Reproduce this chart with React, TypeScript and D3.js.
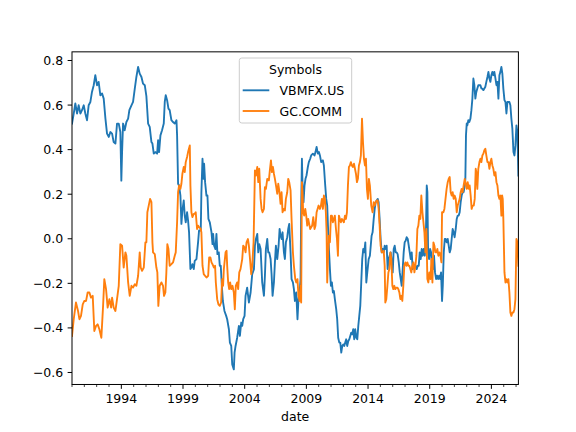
import React from "react";
import * as d3 from "d3";

// ---- data (decimal year, correlation value) ----
const VBMFX_YEARS = [
  1990.0, 1990.14, 1990.27, 1990.41, 1990.54, 1990.68, 1990.81, 1990.95, 1991.08, 1991.22,
  1991.35, 1991.49, 1991.62, 1991.76, 1991.89, 1992.03, 1992.16, 1992.3, 1992.44, 1992.57,
  1992.71, 1992.84, 1992.98, 1993.11, 1993.25, 1993.38, 1993.52, 1993.65, 1993.79, 1993.92,
  1994.0, 1994.06, 1994.14, 1994.27, 1994.41, 1994.55, 1994.65, 1994.82, 1994.95, 1995.09,
  1995.22, 1995.36, 1995.49, 1995.63, 1995.76, 1995.9, 1996.03, 1996.17, 1996.3, 1996.44,
  1996.52, 1996.63, 1996.76, 1996.9, 1996.98, 1997.06, 1997.17, 1997.3, 1997.44, 1997.52,
  1997.6, 1997.71, 1997.82, 1997.92, 1998.06, 1998.19, 1998.33, 1998.47, 1998.52, 1998.6,
  1998.68, 1998.79, 1998.87, 1998.95, 1999.06, 1999.14, 1999.22, 1999.33, 1999.41, 1999.49,
  1999.6, 1999.68, 1999.76, 1999.87, 1999.95, 2000.09, 2000.22, 2000.3, 2000.44, 2000.49,
  2000.58, 2000.66, 2000.71, 2000.79, 2000.9, 2000.98, 2001.06, 2001.17, 2001.31, 2001.39,
  2001.44, 2001.52, 2001.63, 2001.71, 2001.79, 2001.9, 2001.98, 2002.06, 2002.14, 2002.23,
  2002.36, 2002.5, 2002.58, 2002.72, 2002.8, 2002.91, 2002.99, 2003.12, 2003.18, 2003.26,
  2003.39, 2003.53, 2003.61, 2003.72, 2003.8, 2003.88, 2003.99, 2004.07, 2004.2, 2004.34,
  2004.48, 2004.61, 2004.75, 2004.83, 2004.91, 2005.02, 2005.1, 2005.18, 2005.29, 2005.42,
  2005.56, 2005.64, 2005.72, 2005.83, 2005.91, 2005.99, 2006.1, 2006.18, 2006.26, 2006.37,
  2006.45, 2006.53, 2006.64, 2006.75, 2006.83, 2006.91, 2006.99, 2007.07, 2007.18, 2007.26,
  2007.34, 2007.45, 2007.53, 2007.61, 2007.72, 2007.8, 2007.91, 2007.99, 2008.07, 2008.18,
  2008.28, 2008.36, 2008.45, 2008.53, 2008.58, 2008.64, 2008.69, 2008.77, 2008.85, 2008.93,
  2009.01, 2009.12, 2009.2, 2009.31, 2009.39, 2009.53, 2009.66, 2009.74, 2009.83, 2009.93,
  2010.02, 2010.1, 2010.2, 2010.34, 2010.42, 2010.53, 2010.61, 2010.69, 2010.75, 2010.83,
  2010.91, 2010.99, 2011.07, 2011.15, 2011.23, 2011.31, 2011.42, 2011.5, 2011.58, 2011.67,
  2011.75, 2011.83, 2011.91, 2011.99, 2012.07, 2012.15, 2012.23, 2012.31, 2012.4, 2012.48,
  2012.56, 2012.64, 2012.72, 2012.8, 2012.88, 2012.96, 2013.05, 2013.13, 2013.21, 2013.29,
  2013.37, 2013.45, 2013.53, 2013.61, 2013.69, 2013.78, 2013.86, 2013.94, 2014.05, 2014.15,
  2014.29, 2014.37, 2014.46, 2014.54, 2014.62, 2014.7, 2014.78, 2014.86, 2014.94, 2015.02,
  2015.11, 2015.19, 2015.27, 2015.35, 2015.43, 2015.51, 2015.59, 2015.67, 2015.75, 2015.84,
  2015.92, 2016.0, 2016.08, 2016.16, 2016.24, 2016.32, 2016.4, 2016.49, 2016.57, 2016.65,
  2016.73, 2016.81, 2016.89, 2016.97, 2017.05, 2017.13, 2017.22, 2017.3, 2017.38, 2017.46,
  2017.54, 2017.62, 2017.7, 2017.78, 2017.86, 2017.95, 2018.03, 2018.11, 2018.19, 2018.27,
  2018.35, 2018.43, 2018.51, 2018.6, 2018.68, 2018.76, 2018.81, 2018.87, 2018.95, 2019.03,
  2019.11, 2019.19, 2019.27, 2019.35, 2019.43, 2019.52, 2019.6, 2019.68, 2019.76, 2019.84,
  2019.92, 2020.0, 2020.06, 2020.14, 2020.22, 2020.3, 2020.37, 2020.46, 2020.54, 2020.62,
  2020.7, 2020.78, 2020.86, 2020.94, 2021.02, 2021.11, 2021.19, 2021.27, 2021.35, 2021.43,
  2021.51, 2021.59, 2021.67, 2021.75, 2021.84, 2021.89, 2021.94, 2022.0, 2022.05, 2022.13,
  2022.21, 2022.3, 2022.38, 2022.46, 2022.54, 2022.62, 2022.7, 2022.78, 2022.86, 2022.94,
  2023.03, 2023.11, 2023.19, 2023.27, 2023.35, 2023.43, 2023.51, 2023.59, 2023.68, 2023.76,
  2023.84, 2023.92, 2024.0, 2024.08, 2024.16, 2024.24, 2024.33, 2024.41, 2024.49, 2024.57,
  2024.65, 2024.73, 2024.81, 2024.89, 2024.97, 2025.06, 2025.14, 2025.22, 2025.3, 2025.38,
  2025.46, 2025.54, 2025.62, 2025.7, 2025.79, 2025.87, 2025.95, 2026.03, 2026.11, 2026.19,
];
const VBMFX_VALUES = [
  0.517, 0.562, 0.607, 0.562, 0.599, 0.562, 0.577, 0.599, 0.562, 0.532,
  0.599, 0.614, 0.659, 0.689, 0.734, 0.689, 0.704, 0.644, 0.652, 0.629,
  0.539, 0.472, 0.457, 0.479, 0.472, 0.434, 0.427, 0.517, 0.517, 0.479,
  0.261, 0.389, 0.517, 0.487, 0.524, 0.539, 0.577, 0.599, 0.614, 0.674,
  0.726, 0.771, 0.741, 0.726, 0.696, 0.689, 0.64, 0.517, 0.502, 0.434,
  0.427, 0.382, 0.389, 0.382, 0.442, 0.389, 0.464, 0.487, 0.517, 0.614,
  0.644, 0.622, 0.584, 0.577, 0.532, 0.524, 0.517, 0.532, 0.464, 0.247,
  0.239, 0.194, 0.067, 0.127, 0.172, 0.104, 0.074, 0.119, 0.082, 0.029,
  -0.136, -0.129, -0.114, -0.136, -0.099, -0.091, -0.016, 0.037, 0.037, 0.209,
  0.359, 0.269, 0.337, 0.254, 0.194, 0.194, 0.089, 0.074, 0.029, -0.024,
  0.022, -0.031, -0.046, 0.022, -0.069, -0.061, -0.121, -0.121, -0.204, -0.279,
  -0.324, -0.346, -0.361, -0.406, -0.466, -0.481, -0.564, -0.586, -0.511, -0.481,
  -0.444, -0.391, -0.436, -0.376, -0.391, -0.361, -0.346, -0.256, -0.219, -0.286,
  -0.241, -0.159, -0.136, -0.031, -0.001, 0.022, -0.061, -0.024, -0.046, -0.196,
  -0.256, -0.166, -0.046, -0.001, -0.061, -0.061, -0.091, -0.159, -0.256, -0.196,
  -0.106, -0.031, -0.091, -0.031, 0.044, 0.014, -0.001, 0.029, -0.061, -0.091,
  -0.016, 0.007, 0.044, 0.067, -0.061, -0.181, -0.196, -0.226, -0.279, -0.241,
  -0.361, -0.271, -0.241, -0.181, 0.134, 0.359, 0.239, 0.164, 0.239, 0.269,
  0.284, 0.322, 0.344, 0.359, 0.374, 0.382, 0.374, 0.389, 0.412, 0.382,
  0.389, 0.374, 0.344, 0.352, 0.329, 0.239, 0.179, 0.149, 0.059, -0.046,
  -0.136, -0.211, -0.196, -0.241, -0.234, -0.271, -0.316, -0.361, -0.444, -0.466,
  -0.466, -0.511, -0.481, -0.474, -0.481, -0.466, -0.451, -0.481, -0.459, -0.451,
  -0.436, -0.421, -0.429, -0.406, -0.451, -0.406, -0.444, -0.451, -0.391, -0.346,
  -0.301, -0.196, -0.091, -0.046, -0.061, -0.016, -0.196, -0.151, -0.091, -0.076,
  0.014, 0.029, 0.089, 0.134, 0.164, 0.172, 0.179, 0.164, 0.089, -0.001,
  -0.061, -0.046, -0.061, -0.031, -0.046, -0.031, -0.136, -0.091, -0.076, -0.061,
  -0.106, -0.151, -0.046, -0.031, -0.061, -0.061, -0.069, -0.106, -0.151, -0.181,
  -0.211, -0.136, -0.061, -0.016, -0.009, 0.007, -0.001, -0.031, -0.061, -0.091,
  -0.061, -0.136, -0.121, -0.121, -0.121, -0.136, -0.121, -0.121, -0.061, -0.091,
  -0.046, -0.076, -0.046, -0.076, -0.016, 0.239, 0.209, -0.061, -0.091, -0.046,
  -0.061, -0.121, -0.136, -0.076, -0.151, -0.181, -0.166, -0.181, -0.166, -0.181,
  -0.151, -0.279, -0.211, -0.061, -0.001, -0.001, -0.016, -0.001, -0.031, -0.061,
  -0.046, -0.001, 0.044, 0.029, 0.007, 0.044, 0.089, 0.104, 0.104, 0.119,
  0.164, 0.194, 0.209, 0.209, 0.239, 0.269, 0.464, 0.517, 0.509, 0.532,
  0.524, 0.539, 0.577, 0.629, 0.719, 0.689, 0.629, 0.659, 0.674, 0.689,
  0.689, 0.689, 0.674, 0.674, 0.667, 0.674, 0.682, 0.704, 0.726, 0.749,
  0.719, 0.704, 0.734, 0.749, 0.734, 0.749, 0.719, 0.689, 0.704, 0.629,
  0.734, 0.749, 0.771, 0.741, 0.674, 0.622, 0.614, 0.562, 0.614, 0.614,
  0.614, 0.599, 0.539, 0.494, 0.389, 0.374, 0.419, 0.509, 0.479, 0.284,
];

const GC_YEARS = [
  1990.0, 1990.14, 1990.32, 1990.49, 1990.6, 1990.73, 1990.87, 1991.0, 1991.14, 1991.27,
  1991.41, 1991.54, 1991.68, 1991.81, 1991.95, 1992.08, 1992.22, 1992.38, 1992.52, 1992.62,
  1992.76, 1992.89, 1993.03, 1993.17, 1993.25, 1993.38, 1993.52, 1993.65, 1993.79, 1993.92,
  1994.06, 1994.19, 1994.33, 1994.41, 1994.55, 1994.68, 1994.82, 1994.95, 1995.09, 1995.22,
  1995.36, 1995.49, 1995.57, 1995.68, 1995.82, 1995.95, 1996.03, 1996.11, 1996.22, 1996.33,
  1996.44, 1996.52, 1996.57, 1996.71, 1996.84, 1996.92, 1997.0, 1997.11, 1997.25, 1997.38,
  1997.46, 1997.57, 1997.65, 1997.73, 1997.82, 1997.92, 1998.06, 1998.19, 1998.33, 1998.41,
  1998.52, 1998.6, 1998.68, 1998.79, 1998.87, 1998.95, 1999.06, 1999.14, 1999.22, 1999.33,
  1999.41, 1999.55, 1999.6, 1999.68, 1999.76, 1999.87, 1999.95, 2000.03, 2000.14, 2000.22,
  2000.3, 2000.44, 2000.49, 2000.58, 2000.68, 2000.79, 2000.9, 2001.04, 2001.12, 2001.22,
  2001.31, 2001.39, 2001.5, 2001.6, 2001.66, 2001.77, 2001.87, 2001.98, 2002.09, 2002.17,
  2002.25, 2002.31, 2002.45, 2002.53, 2002.58, 2002.66, 2002.74, 2002.82, 2002.91, 2003.01,
  2003.12, 2003.2, 2003.28, 2003.39, 2003.47, 2003.56, 2003.66, 2003.8, 2003.88, 2003.99,
  2004.07, 2004.15, 2004.26, 2004.34, 2004.42, 2004.53, 2004.61, 2004.72, 2004.83, 2004.91,
  2005.02, 2005.1, 2005.18, 2005.29, 2005.37, 2005.45, 2005.56, 2005.64, 2005.72, 2005.83,
  2005.96, 2006.04, 2006.13, 2006.21, 2006.29, 2006.37, 2006.45, 2006.56, 2006.64, 2006.72,
  2006.8, 2006.91, 2006.99, 2007.07, 2007.18, 2007.26, 2007.34, 2007.45, 2007.53, 2007.61,
  2007.72, 2007.8, 2007.91, 2007.99, 2008.1, 2008.18, 2008.28, 2008.36, 2008.45, 2008.53,
  2008.58, 2008.64, 2008.69, 2008.74, 2008.82, 2008.91, 2008.99, 2009.07, 2009.15, 2009.23,
  2009.31, 2009.39, 2009.47, 2009.56, 2009.66, 2009.74, 2009.83, 2009.91, 2009.99, 2010.1,
  2010.18, 2010.26, 2010.34, 2010.42, 2010.5, 2010.58, 2010.64, 2010.69, 2010.75, 2010.83,
  2010.91, 2010.99, 2011.07, 2011.15, 2011.23, 2011.31, 2011.4, 2011.48, 2011.56, 2011.64,
  2011.72, 2011.8, 2011.88, 2011.96, 2012.04, 2012.13, 2012.21, 2012.29, 2012.37, 2012.45,
  2012.53, 2012.61, 2012.69, 2012.77, 2012.86, 2012.94, 2013.02, 2013.1, 2013.18, 2013.26,
  2013.34, 2013.42, 2013.51, 2013.59, 2013.67, 2013.75, 2013.83, 2013.91, 2013.99, 2014.07,
  2014.15, 2014.26, 2014.37, 2014.46, 2014.54, 2014.62, 2014.7, 2014.78, 2014.86, 2014.94,
  2015.02, 2015.11, 2015.19, 2015.27, 2015.35, 2015.4, 2015.48, 2015.57, 2015.65, 2015.73,
  2015.81, 2015.89, 2015.97, 2016.05, 2016.13, 2016.21, 2016.3, 2016.38, 2016.46, 2016.54,
  2016.62, 2016.7, 2016.78, 2016.86, 2016.94, 2017.03, 2017.11, 2017.19, 2017.27, 2017.35,
  2017.43, 2017.51, 2017.59, 2017.68, 2017.76, 2017.84, 2017.92, 2018.0, 2018.08, 2018.16,
  2018.24, 2018.32, 2018.41, 2018.49, 2018.57, 2018.65, 2018.73, 2018.81, 2018.89, 2018.97,
  2019.06, 2019.14, 2019.22, 2019.3, 2019.38, 2019.46, 2019.54, 2019.62, 2019.7, 2019.79,
  2019.87, 2019.95, 2020.0, 2020.11, 2020.19, 2020.37, 2020.46, 2020.54, 2020.62, 2020.7,
  2020.78, 2020.86, 2020.94, 2021.02, 2021.11, 2021.19, 2021.27, 2021.35, 2021.43, 2021.51,
  2021.59, 2021.67, 2021.75, 2021.84, 2021.92, 2022.0, 2022.08, 2022.16, 2022.24, 2022.32,
  2022.4, 2022.48, 2022.57, 2022.65, 2022.73, 2022.78, 2022.86, 2022.94, 2023.03, 2023.11,
  2023.19, 2023.27, 2023.35, 2023.43, 2023.51, 2023.59, 2023.68, 2023.76, 2023.84, 2023.92,
  2024.0, 2024.08, 2024.16, 2024.24, 2024.33, 2024.41, 2024.49, 2024.57, 2024.65, 2024.73,
  2024.81, 2024.87, 2024.92, 2024.97, 2025.06, 2025.14, 2025.22, 2025.3, 2025.38, 2025.46,
  2025.54, 2025.62, 2025.7, 2025.79, 2025.87, 2025.95, 2026.03, 2026.11, 2026.19,
];
const GC_VALUES = [
  -0.436, -0.361, -0.286, -0.324, -0.361, -0.346, -0.294, -0.279, -0.279, -0.241,
  -0.241, -0.264, -0.256, -0.414, -0.391, -0.384, -0.406, -0.444, -0.301, -0.181,
  -0.226, -0.309, -0.271, -0.309, -0.264, -0.309, -0.324, -0.271, -0.211, -0.024,
  -0.031, -0.129, -0.061, -0.076, -0.196, -0.256, -0.211, -0.219, -0.204, -0.211,
  -0.166, -0.061, -0.129, -0.144, -0.129, -0.016, -0.016, 0.119, 0.149, 0.179,
  0.164, -0.016, -0.061, -0.069, -0.129, -0.151, -0.301, -0.211, -0.196, -0.211,
  -0.256, -0.241, -0.151, -0.024, -0.046, -0.121, -0.114, -0.106, -0.076, -0.061,
  0.074, 0.209, 0.239, 0.224, 0.247, 0.292, 0.322, 0.299, 0.344, 0.367,
  0.389, 0.419, 0.239, 0.119, 0.097, 0.112, 0.112, 0.119, 0.044, 0.059,
  0.052, 0.044, 0.029, -0.121, -0.159, -0.166, -0.174, -0.166, -0.084, -0.084,
  -0.106, -0.114, -0.129, -0.121, -0.196, -0.271, -0.294, -0.301, -0.286, -0.181,
  -0.211, -0.136, -0.061, -0.054, -0.121, -0.196, -0.226, -0.196, -0.226, -0.211,
  -0.241, -0.316, -0.211, -0.196, -0.226, -0.151, -0.136, -0.091, -0.031, -0.039,
  -0.061, -0.016, -0.001, -0.031, -0.084, -0.159, -0.121, -0.016, 0.307, 0.284,
  0.322, 0.254, 0.314, 0.179, 0.134, 0.119, 0.134, 0.232, 0.224, 0.269,
  0.262, 0.307, 0.352, 0.299, 0.322, 0.292, 0.269, 0.232, 0.202, 0.247,
  0.217, 0.157, 0.209, 0.119, 0.134, 0.127, 0.179, 0.209, 0.269, 0.254,
  0.217, 0.089, -0.061, -0.121, -0.181, -0.196, -0.181, -0.256, -0.279, -0.211,
  -0.286, 0.254, 0.209, 0.119, 0.104, 0.134, 0.104, 0.059, 0.089, 0.067,
  0.044, 0.052, 0.059, 0.097, 0.044, 0.059, 0.119, 0.134, 0.149, 0.134,
  0.149, 0.179, 0.134, 0.194, 0.179, 0.119, 0.029, -0.196, -0.091, 0.014,
  -0.016, 0.104, 0.104, 0.074, 0.089, 0.104, 0.044, -0.001, -0.076, 0.104,
  0.089, 0.074, 0.089, 0.082, 0.074, 0.104, 0.089, 0.119, 0.239, 0.322,
  0.329, 0.344, 0.329, 0.322, 0.337, 0.314, 0.292, 0.254, 0.269, 0.329,
  0.344, 0.374, 0.539, 0.434, 0.359, 0.329, 0.359, 0.224, 0.179, 0.269,
  0.239, 0.149, 0.119, 0.164, 0.149, 0.164, 0.172, 0.172, 0.134, 0.059,
  -0.031, -0.061, -0.061, -0.054, -0.121, -0.286, -0.271, -0.211, -0.151, -0.136,
  -0.061, -0.091, -0.211, -0.226, -0.211, -0.226, -0.219, -0.219, -0.226, -0.241,
  -0.271, -0.256, -0.279, -0.211, -0.121, -0.106, -0.121, -0.106, -0.121, -0.121,
  -0.136, -0.151, -0.121, -0.106, -0.151, -0.121, -0.076, 0.044, 0.059, 0.104,
  0.089, 0.194, 0.119, 0.074, 0.029, -0.061, 0.044, -0.181, -0.196, -0.151,
  -0.181, -0.091, -0.196, -0.016, -0.031, -0.061, -0.061, -0.046, -0.076, -0.061,
  -0.076, -0.106, 0.119, 0.119, 0.134, 0.224, 0.254, 0.269, 0.277, 0.209,
  0.194, 0.209, 0.179, 0.194, 0.179, 0.119, 0.149, 0.164, 0.179, 0.209,
  0.224, 0.209, 0.239, 0.269, 0.247, 0.224, 0.254, 0.224, 0.239, 0.194,
  0.134, 0.149, 0.149, 0.179, 0.314, 0.299, 0.224, 0.314, 0.344, 0.359,
  0.344, 0.374, 0.382, 0.397, 0.404, 0.374, 0.344, 0.344, 0.314, 0.344,
  0.359, 0.329, 0.314, 0.284, 0.299, 0.254, 0.239, 0.194, 0.179, 0.194,
  0.104, 0.194, 0.179, 0.089, -0.151, -0.196, -0.181, -0.196, -0.181, -0.241,
  -0.331, -0.346, -0.331, -0.331, -0.316, -0.271, -0.001, -0.016, -0.121,
];

const SERIES_NAMES = ["VBMFX.US", "GC.COMM"];
const SERIES_COLORS = ["#1f77b4", "#ff7f0e"];
const Y_TICKS = [-0.6, -0.4, -0.2, 0.0, 0.2, 0.4, 0.6, 0.8];
const X_MAJOR_TICKS = [1994, 1999, 2004, 2009, 2014, 2019, 2024];
const X_MINOR_TICKS = d3.range(1990, 2027);
const LEGEND_TITLE = "Symbols";
const X_LABEL = "date";

const FONT = "'DejaVu Sans', Verdana, sans-serif";

export default function App() {
  const W = 576;
  const H = 432;
  const left = 72;
  const right = 518.4;
  const top = 51.84;
  const bottom = 384.48;

  const series = [
    { name: SERIES_NAMES[0], color: SERIES_COLORS[0], years: VBMFX_YEARS, values: VBMFX_VALUES },
    { name: SERIES_NAMES[1], color: SERIES_COLORS[1], years: GC_YEARS, values: GC_VALUES },
  ];

  const allYears = [...VBMFX_YEARS, ...GC_YEARS];
  const allVals = [...VBMFX_VALUES, ...GC_VALUES];
  const [xMin, xMax] = d3.extent(allYears) as [number, number];
  const [vMin, vMax] = d3.extent(allVals) as [number, number];
  const pad = (vMax - vMin) * 0.05;

  const x = d3.scaleLinear().domain([xMin, xMax]).range([left, right]);
  const y = d3.scaleLinear().domain([vMin - pad, vMax + pad]).range([bottom, top]);

  const fmt = (v: number) => d3.format(".1f")(v).replace("-", "\u2212");

  const minor = X_MINOR_TICKS.filter(
    (t) => t >= xMin && t <= xMax && !X_MAJOR_TICKS.includes(t)
  );

  const lw = 1.875;

  // legend geometry
  const lgX = 239.3;
  const lgY = 58;
  const lgW = 112.4;
  const lgH = 65;

  return (
    <div style={{ margin: 0, padding: 0 }}>
      <style>{`body{margin:0;padding:0;background:#fff}`}</style>
      <svg width={W} height={H} viewBox={`0 0 ${W} ${H}`} style={{ display: "block" }} fontFamily={FONT}>
        <rect x={0} y={0} width={W} height={H} fill="#ffffff" />
        <defs>
          <clipPath id="plotClip">
            <rect x={left} y={top} width={right - left} height={bottom - top} />
          </clipPath>
        </defs>

        <g clipPath="url(#plotClip)">
          {series.map((s) => {
            const pts = s.years.map((yr, i) => [yr, s.values[i]] as [number, number]);
            const line = d3
              .line<[number, number]>()
              .x((d) => x(d[0]))
              .y((d) => y(d[1]));
            return (
              <path
                key={s.name}
                d={line(pts) || ""}
                fill="none"
                stroke={s.color}
                strokeWidth={lw}
                strokeLinejoin="round"
                strokeLinecap="square"
              />
            );
          })}
        </g>

        {/* spines */}
        <rect x={left} y={top} width={right - left} height={bottom - top} fill="none" stroke="#000" strokeWidth={1} />

        {/* y ticks */}
        {Y_TICKS.map((t) => (
          <g key={"y" + t}>
            <line x1={left - 4.375} x2={left} y1={y(t)} y2={y(t)} stroke="#000" strokeWidth={1} />
            <text x={left - 8.75} y={y(t)} dy="0.36em" textAnchor="end" fontSize={12.5} fill="#000">
              {fmt(t)}
            </text>
          </g>
        ))}

        {/* x minor ticks */}
        {minor.map((t) => (
          <line key={"m" + t} x1={x(t)} x2={x(t)} y1={bottom} y2={bottom + 2.5} stroke="#000" strokeWidth={0.75} />
        ))}
        {/* x major ticks */}
        {X_MAJOR_TICKS.map((t) => (
          <g key={"x" + t}>
            <line x1={x(t)} x2={x(t)} y1={bottom} y2={bottom + 4.375} stroke="#000" strokeWidth={1} />
            <text x={x(t)} y={403.3} textAnchor="middle" fontSize={12.5} fill="#000">
              {String(t)}
            </text>
          </g>
        ))}

        <text x={(left + right) / 2} y={421} textAnchor="middle" fontSize={12.5} fill="#000">
          {X_LABEL}
        </text>

        {/* legend */}
        <g>
          <rect
            x={lgX}
            y={lgY}
            width={lgW}
            height={lgH}
            rx={2.5}
            ry={2.5}
            fill="#ffffff"
            fillOpacity={0.8}
            stroke="#cccccc"
            strokeWidth={1}
          />
          <text x={lgX + lgW / 2} y={73.8} textAnchor="middle" fontSize={12.5} fill="#000">
            {LEGEND_TITLE}
          </text>
          {series.map((s, i) => {
            const cy = 90.3 + i * 20.7;
            return (
              <g key={"lg" + s.name}>
                <line x1={242.7} x2={269.3} y1={cy} y2={cy} stroke={s.color} strokeWidth={lw} />
                <text x={279.5} y={cy + 4.5} fontSize={12.5} fill="#000">
                  {s.name}
                </text>
              </g>
            );
          })}
        </g>
      </svg>
    </div>
  );
}
